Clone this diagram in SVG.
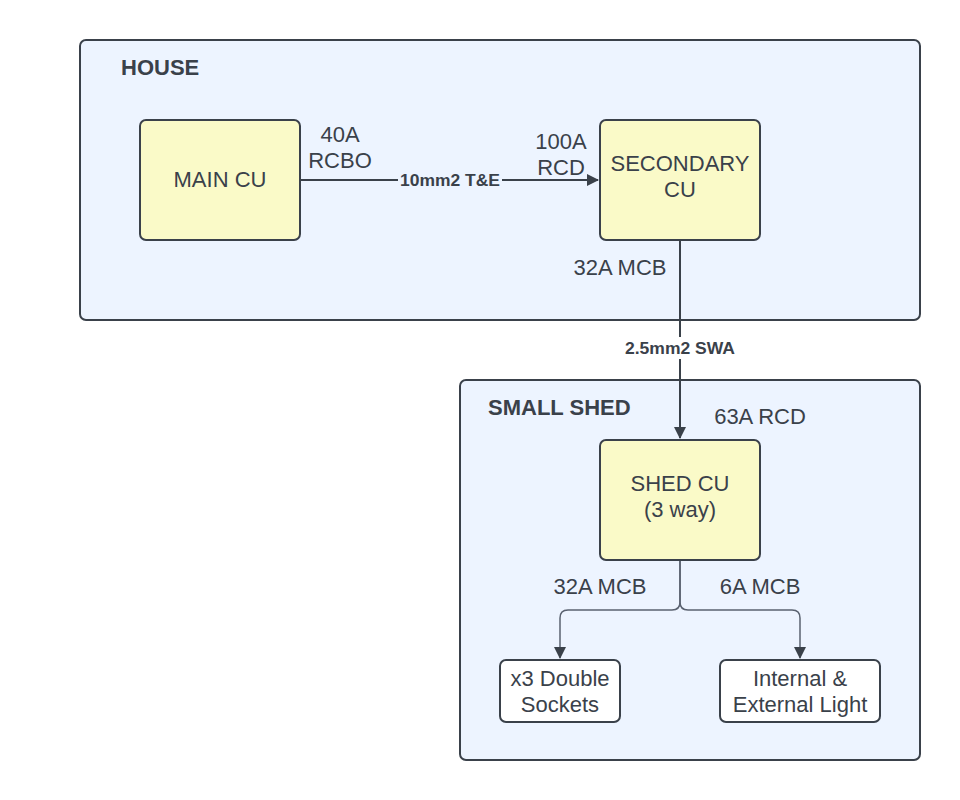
<svg xmlns="http://www.w3.org/2000/svg" width="960" height="800" viewBox="0 0 960 800">
<defs>
<style>
.cont{fill:#edf4ff;stroke:#3a414a;stroke-width:2}
.cu{fill:#fafac8;stroke:#3a414a;stroke-width:2}
.leaf{fill:#ffffff;stroke:#3a414a;stroke-width:2}
text{font-family:"Liberation Sans",Arial,sans-serif;fill:#3a414a}
.t{font-size:22px;text-anchor:middle}
.h{font-size:22px;font-weight:bold}
.b{font-size:16.5px;font-weight:bold;text-anchor:middle}
.main{fill:none;stroke:#3a414a;stroke-width:2}
.br{fill:none;stroke:#5a6270;stroke-width:1.5}
</style>
<marker id="ah" markerWidth="12" markerHeight="12" refX="11" refY="6" orient="auto" markerUnits="userSpaceOnUse">
<path d="M0,0 L12,6 L0,12 Z" fill="#3a414a"/>
</marker>
<marker id="ah2" markerWidth="12" markerHeight="14" refX="11" refY="6" orient="auto" markerUnits="userSpaceOnUse">
<path d="M0,0 L12,6 L0,12 Z" fill="#3a414a"/>
</marker>
</defs>
<rect width="960" height="800" fill="#ffffff"/>
<g id="house">
<rect class="cont" x="80" y="40" width="840" height="280" rx="6"/>
<text class="h" x="121" y="75">HOUSE</text>
</g>
<g id="shed">
<rect class="cont" x="460" y="380" width="460" height="380" rx="6"/>
<text class="h" x="488" y="415">SMALL SHED</text>
</g>
<g id="connectors">
<path class="main" d="M300,180 H598" marker-end="url(#ah)"/>
<rect x="398" y="169" width="104" height="21" fill="#edf4ff"/>
<text class="b" x="450" y="186" textLength="100" lengthAdjust="spacingAndGlyphs">10mm2 T&amp;E</text>
<path class="main" d="M680,240 V438" marker-end="url(#ah)"/>
<rect x="622" y="337" width="116" height="22" fill="#ffffff"/>
<text class="b" x="680" y="354" textLength="110" lengthAdjust="spacingAndGlyphs">2.5mm2 SWA</text>
<path class="br" d="M680,560 V602 Q680,610 672,610 H568 Q560,610 560,618 V658" marker-end="url(#ah2)"/>
<path class="br" d="M680,560 V602 Q680,610 688,610 H792 Q800,610 800,618 V658" marker-end="url(#ah2)"/>
<text class="t" x="340" y="142">40A</text>
<text class="t" x="340" y="168">RCBO</text>
<text class="t" x="561" y="149">100A</text>
<text class="t" x="561" y="175">RCD</text>
<text class="t" x="620" y="275">32A MCB</text>
<text class="t" x="760" y="424">63A RCD</text>
<text class="t" x="600" y="594">32A MCB</text>
<text class="t" x="760" y="594">6A MCB</text>
</g>
<g id="main-cu">
<rect class="cu" x="140" y="120" width="160" height="120" rx="6"/>
<text class="t" x="220" y="187">MAIN CU</text>
</g>
<g id="secondary-cu">
<rect class="cu" x="600" y="120" width="160" height="120" rx="6"/>
<text class="t" x="680" y="171">SECONDARY</text>
<text class="t" x="680" y="197">CU</text>
</g>
<g id="shed-cu">
<rect class="cu" x="600" y="440" width="160" height="120" rx="6"/>
<text class="t" x="680" y="491">SHED CU</text>
<text class="t" x="680" y="517">(3 way)</text>
</g>
<g id="sockets">
<rect class="leaf" x="500" y="660" width="120" height="62" rx="6"/>
<text class="t" x="560" y="686">x3 Double</text>
<text class="t" x="560" y="712">Sockets</text>
</g>
<g id="lights">
<rect class="leaf" x="720" y="660" width="160" height="62" rx="6"/>
<text class="t" x="800" y="686">Internal &amp;</text>
<text class="t" x="800" y="712">External Light</text>
</g>
</svg>
